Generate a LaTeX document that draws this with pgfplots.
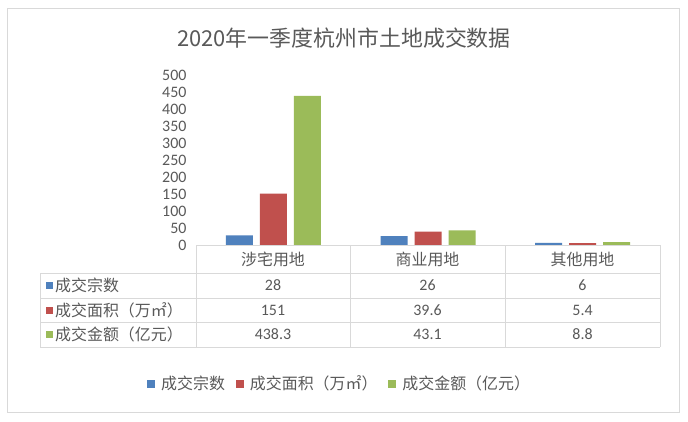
\documentclass[border=0pt]{standalone}
\usepackage{pgfplots}
\pgfplotsset{compat=1.18}
\usepackage{fontspec}
\setmainfont{Carlito}
\newfontfamily\cjk{Noto Sans CJK SC}
\definecolor{sBlue}{HTML}{4F81BD}
\definecolor{sRed}{HTML}{C0504D}
\definecolor{sGreen}{HTML}{9BBB59}
\definecolor{txt}{HTML}{595959}
\definecolor{rule}{HTML}{D9D9D9}

\begin{document}
\begin{tikzpicture}[x=1bp,y=1bp]
\path[use as bounding box, fill=white] (0,0) rectangle (688,421);
\draw[rule] (7.5,8.5) rectangle (679,412.5);
\node[text=txt, font=\cjk\fontsize{22}{26}\selectfont] at (344,383) {2020年一季度杭州市土地成交数据};

\begin{axis}[
  at={(196bp,176bp)}, anchor=south west,
  scale only axis, width=464bp, height=170bp,
  xmin=-0.5, xmax=2.5, ymin=0, ymax=500,
  ybar=7bp, bar width=27bp,
  xtick=\empty, ytick={0,50,...,500},
  axis lines=left, axis line style={draw=none},
  major tick length=0pt,
  yticklabel style={font=\fontsize{16}{16}\selectfont, text=txt, xshift=-6bp,
    /pgf/number format/assume math mode=true},
  clip=false,
  legend columns=-1,
  legend style={at={(0.3095,-0.815)}, anchor=center, draw=none, fill=none,
    font=\cjk\fontsize{16}{18}\selectfont, text=txt,
    /tikz/every odd column/.append style={column sep=4bp},
    /tikz/every even column/.append style={column sep=9bp}},
  legend image code/.code={\fill[#1] (0bp,-4bp) rectangle (8bp,4bp);},
]
\addplot[fill=sBlue, draw=none] coordinates {(0,28) (1,26) (2,6)};
\addplot[fill=sRed, draw=none] coordinates {(0,151) (1,39.6) (2,5.4)};
\addplot[fill=sGreen, draw=none] coordinates {(0,438.3) (1,43.1) (2,8.8)};
\legend{成交宗数, 成交面积（万㎡）, 成交金额（亿元）}
\end{axis}

% data table
\draw[rule] (196,176) -- (660,176);
\foreach \y in {148,123,99,74} \draw[rule] (40,\y) -- (660,\y);
\draw[rule] (40,148) -- (40,74);
\foreach \x in {196,350,505,660} \draw[rule] (\x,176) -- (\x,74);
\begin{scope}[every node/.style={text=txt, font=\fontsize{16}{18}\selectfont}]
\node[font=\cjk\fontsize{16}{18}\selectfont] at (273,162) {涉宅用地};
\node[font=\cjk\fontsize{16}{18}\selectfont] at (427.5,162) {商业用地};
\node[font=\cjk\fontsize{16}{18}\selectfont] at (582.5,162) {其他用地};
\fill[sBlue] (46,132) rectangle (53,139);
\fill[sRed] (46,107.5) rectangle (53,114.5);
\fill[sGreen] (46,83) rectangle (53,90);
\node[anchor=west, inner sep=1bp, font=\cjk\fontsize{16}{18}\selectfont] at (54,135.5) {成交宗数};
\node[anchor=west, inner sep=1bp, font=\cjk\fontsize{16}{18}\selectfont] at (54,111) {成交面积（万㎡）};
\node[anchor=west, inner sep=1bp, font=\cjk\fontsize{16}{18}\selectfont] at (54,86.5) {成交金额（亿元）};
\node at (273,135.5) {28};
\node at (427.5,135.5) {26};
\node at (582.5,135.5) {6};
\node at (273,111) {151};
\node at (427.5,111) {39.6};
\node at (582.5,111) {5.4};
\node at (273,86.5) {438.3};
\node at (427.5,86.5) {43.1};
\node at (582.5,86.5) {8.8};
\end{scope}
\end{tikzpicture}
\end{document}
